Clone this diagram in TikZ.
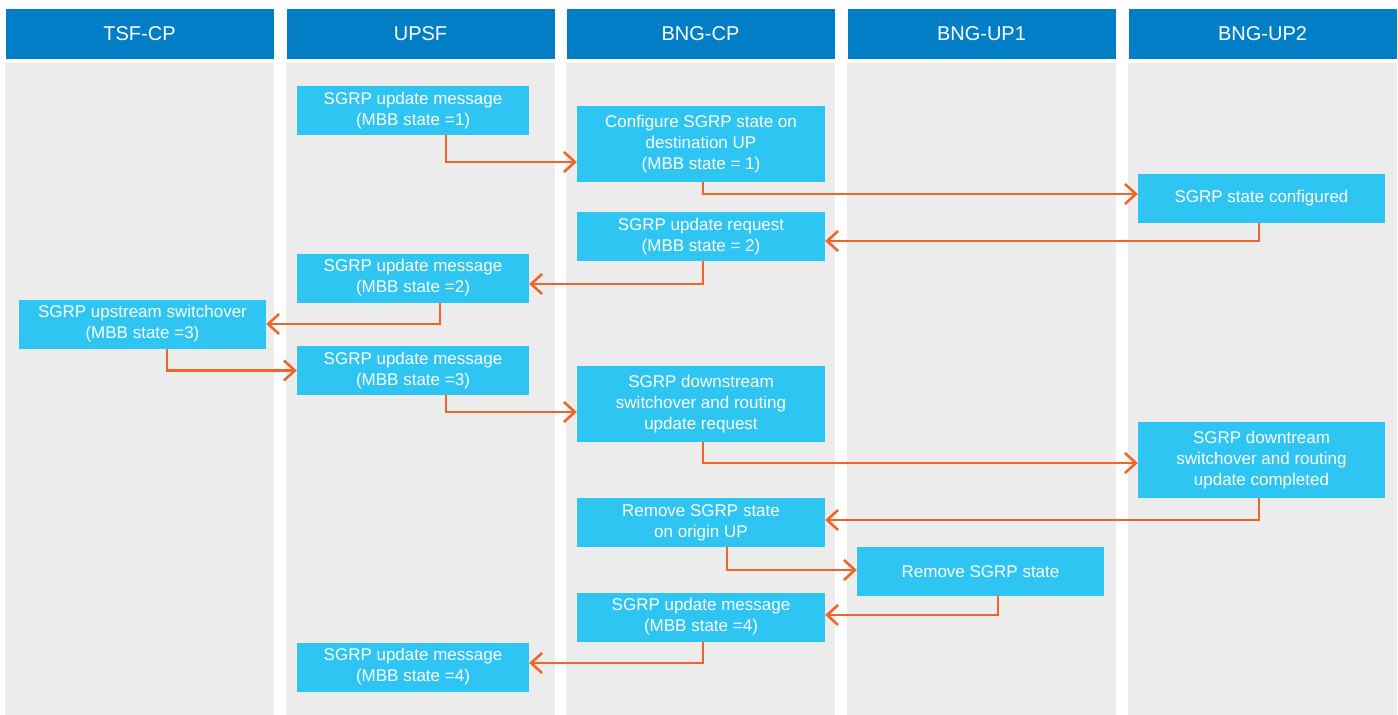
\documentclass[tikz,border=0pt]{standalone}
\usepackage{fontspec}
\setmainfont{Liberation Sans}
\usetikzlibrary{arrows.meta}
\definecolor{hdrblue}{RGB}{2,126,198}
\definecolor{boxblue}{RGB}{46,197,243}
\definecolor{lanegray}{RGB}{236,236,236}
\definecolor{arrorange}{RGB}{240,100,40}
\begin{document}
\begin{tikzpicture}[x=1pt,y=-1pt,
  lane/.style={fill=lanegray,draw=none},
  hdr/.style={fill=hdrblue,draw=none,text=white,minimum width=268pt,minimum height=50pt,inner sep=0pt,font=\fontsize{20}{24}\selectfont},
  msgbox/.style={fill=boxblue,draw=none,text=white,inner sep=0pt,align=center,font=\fontsize{17}{21}\selectfont},
  wbox/.style={msgbox,minimum width=248pt},
  nbox/.style={msgbox,minimum width=232pt},
  hbox/.style={minimum height=49pt},
  tbox/.style={minimum height=76pt},
  arr/.style={draw=arrorange,line width=2.5pt,-{Straight Barb[length=11pt,width=20pt,line width=2.5pt]}}
]
\useasboundingbox (0,0) rectangle (1398,715);
\fill[white] (0,0) rectangle (1398,715);
% lanes
\foreach \x in {5,286,566,847,1128}{
  \fill[lanegray] (\x,63) rectangle ++(269,652);
}
\node[hdr] (h1) at (139.5,33.5) {TSF-CP};
\node[hdr] (h2) at (420.5,33.5) {UPSF};
\node[hdr] (h3) at (700.5,33.5) {BNG-CP};
\node[hdr] (h4) at (981.5,33.5) {BNG-UP1};
\node[hdr] (h5) at (1262.5,33.5) {BNG-UP2};
% boxes
\node[nbox,hbox] (b1) at (413,110.5) {SGRP update message\\(MBB state =1)};
\node[wbox,tbox] (b2) at (701,144) {Configure SGRP state on\\destination UP\\(MBB state = 1)};
\node[wbox,hbox,minimum width=247pt] (b3) at (1261.5,198.5) {SGRP state configured};
\node[wbox,hbox] (b4) at (701,236.5) {SGRP update request\\(MBB state = 2)};
\node[nbox,hbox] (b5) at (413,278) {SGRP update message\\(MBB state =2)};
\node[wbox,hbox,minimum width=247pt] (b6) at (142.5,324) {SGRP upstream switchover\\(MBB state =3)};
\node[nbox,hbox] (b7) at (413,370.5) {SGRP update message\\(MBB state =3)};
\node[wbox,tbox] (b8) at (701,404) {SGRP downstream\\switchover and routing\\update request};
\node[wbox,tbox,minimum width=247pt] (b9) at (1261.5,460) {SGRP downtream\\switchover and routing\\update completed};
\node[wbox,hbox] (b10) at (701,522.5) {Remove SGRP state\\on origin UP};
\node[wbox,hbox,minimum width=247pt] (b11) at (980.5,571.5) {Remove SGRP state};
\node[wbox,hbox] (b12) at (701,617) {SGRP update message\\(MBB state =4)};
\node[nbox,hbox] (b13) at (413,667) {SGRP update message\\(MBB state =4)};
% connectors
\draw[arr] ([xshift=33pt]b1.south) |- ([yshift=-18pt]b2.west);
\draw[arr] ([xshift=2pt]b2.south) |- ([yshift=4.5pt]b3.west);
\draw[arr] ([xshift=-2.5pt]b3.south) |- ([yshift=-4.5pt]b4.east);
\draw[arr] ([xshift=2pt]b4.south) |- ([yshift=-6pt]b5.east);
\draw[arr] ([xshift=27pt]b5.south) |- (b6.east);
\draw[arr] ([xshift=24.5pt]b6.south) |- (b7.west);
\draw[arr] ([xshift=33pt]b7.south) |- ([yshift=-8pt]b8.west);
\draw[arr] ([xshift=2pt]b8.south) |- ([yshift=-3pt]b9.west);
\draw[arr] ([xshift=-2.5pt]b9.south) |- ([yshift=2.5pt]b10.east);
\draw[arr] ([xshift=26pt]b10.south) |- ([yshift=1.5pt]b11.west);
\draw[arr] ([xshift=17.5pt]b11.south) |- ([yshift=2pt]b12.east);
\draw[arr] ([xshift=2pt]b12.south) |- ([yshift=4pt]b13.east);
\end{tikzpicture}
\end{document}
